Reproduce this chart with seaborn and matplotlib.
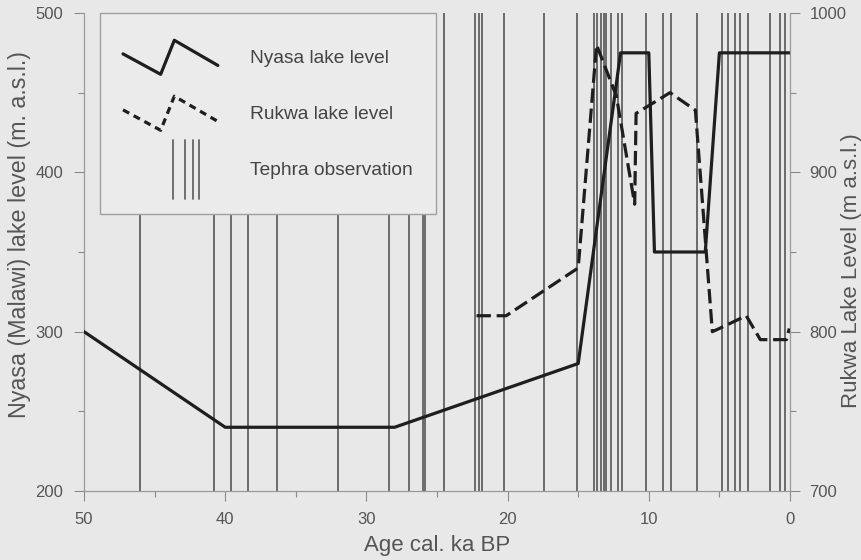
import matplotlib
matplotlib.use("Agg")
import matplotlib.pyplot as plt
from matplotlib.lines import Line2D
from matplotlib.legend_handler import HandlerBase
from matplotlib.ticker import MultipleLocator
import numpy as np
import pandas as pd
import seaborn as sns

# Nyasa (Malawi) lake level, m a.s.l., against age in cal. ka BP
nyasa_age = [50, 40, 28, 15, 12, 10, 9.6, 6, 5, 0]
nyasa_level = [300, 240, 240, 280, 475, 475, 350, 350, 475, 475]

# Rukwa lake level, m a.s.l.
rukwa_age = [22.2, 20.1, 15.0, 13.7, 12.3, 11.0, 10.9, 8.5, 6.7, 5.5, 5.0, 3.1, 2.1, 0.25, 0.05]
rukwa_level = [810, 810, 840, 980, 948, 880, 937, 950, 939, 800, 802, 810, 795, 795, 802]

# Ages of tephra observations, cal. ka BP
tephra_age = [46.0, 40.8, 39.6, 38.4, 36.3, 32.0, 28.4, 27.0, 26.0, 25.85, 24.5,
              22.3, 22.0, 21.8, 20.25, 17.4, 15.1, 13.9, 13.7, 13.4, 13.2, 13.0,
              12.7, 12.2, 11.9, 10.2, 9.0, 8.4, 6.6, 4.85, 4.4, 3.9, 3.55, 2.95,
              1.4, 0.7, 0.35]

legend_labels = ["Nyasa lake level", "Rukwa lake level", "Tephra observation"]

nyasa = pd.DataFrame({"age": nyasa_age, "level": nyasa_level})
rukwa = pd.DataFrame({"age": rukwa_age, "level": rukwa_level})
tephra = pd.DataFrame({"age": tephra_age})

sns.set_theme(style="ticks")
bg = "#e8e8e8"
plt.rcParams["font.family"] = ["Liberation Sans", "DejaVu Sans"]
plt.rcParams.update({
    "figure.facecolor": bg,
    "axes.facecolor": bg,
    "axes.edgecolor": "#9a9a9a",
    "axes.linewidth": 0.9,
    "xtick.color": "#8a8a8a",
    "ytick.color": "#8a8a8a",
    "xtick.labelcolor": "#555555",
    "ytick.labelcolor": "#555555",
    "xtick.labelsize": 12,
    "ytick.labelsize": 12,
})

fig = plt.figure(figsize=(8.61, 5.60), dpi=100)
ax = fig.add_axes([84 / 861, 1 - 491 / 560, 706 / 861, 478 / 560])
ax2 = ax.twinx()

line_col = "#1e1e1e"
teph_col = "#666666"
dash = (0, (4.5, 1.8))

sns.rugplot(data=tephra, x="age", height=1, ax=ax, color=teph_col,
            linewidth=1.35, alpha=1, expand_margins=False, zorder=1)
sns.lineplot(data=nyasa, x="age", y="level", ax=ax, sort=False, estimator=None,
             color=line_col, linewidth=2.3, zorder=3)
sns.lineplot(data=rukwa, x="age", y="level", ax=ax2, sort=False, estimator=None,
             color=line_col, linewidth=2.3, linestyle=dash, zorder=3)

ax.set_xlim(50, 0)
ax.set_ylim(200, 500)
ax2.set_ylim(700, 1000)
ax.xaxis.set_major_locator(MultipleLocator(10))
ax.xaxis.set_minor_locator(MultipleLocator(5))
ax.yaxis.set_major_locator(MultipleLocator(100))
ax.yaxis.set_minor_locator(MultipleLocator(50))
ax2.yaxis.set_major_locator(MultipleLocator(100))
ax2.yaxis.set_minor_locator(MultipleLocator(50))

for a in (ax, ax2):
    a.tick_params(which="major", length=7, width=0.8, direction="out")
    a.tick_params(which="minor", length=4, width=0.8, direction="out")
    a.spines["top"].set_visible(False)
ax.tick_params(axis="x", pad=8)
ax.tick_params(axis="y", pad=8)
ax2.tick_params(axis="y", pad=7)
ax.spines["right"].set_visible(False)
ax2.spines["left"].set_visible(False)
ax2.spines["bottom"].set_visible(False)
ax2.spines["right"].set_color("#9a9a9a")

lab_col = "#555555"
ax.set_xlabel("Age cal. ka BP", fontsize=16, color=lab_col, labelpad=6)
ax.set_ylabel("Nyasa (Malawi) lake level (m. a.s.l.)", fontsize=16.75,
              color=lab_col)
ax.yaxis.set_label_coords(-0.0907, 0.536)
ax.yaxis.label.set_va("center")
ax2.set_ylabel("Rukwa Lake Level (m a.s.l.)", fontsize=16, color=lab_col)
ax2.yaxis.set_label_coords(1.0865, 0.462)
ax2.yaxis.label.set_va("center")

# handle glyphs are scaled about the middle of a taller handle box
HANDLE_SCALE = 0.80


class ZigzagHandler(HandlerBase):
    def __init__(self, style):
        super().__init__()
        self.style = style

    def create_artists(self, legend, orig_handle, xdescent, ydescent,
                       width, height, fontsize, trans):
        fx = np.array([0.0, 0.397, 0.541, 1.0])
        fy = np.array([0.6, 0.0, 1.0, 0.26])
        fy = 0.5 + (fy - 0.5) * HANDLE_SCALE
        ln = Line2D(-xdescent + fx * width, -ydescent + fy * height,
                    color=line_col, linewidth=2.3, linestyle=self.style,
                    transform=trans)
        return [ln]


class TephraHandler(HandlerBase):
    def create_artists(self, legend, orig_handle, xdescent, ydescent,
                       width, height, fontsize, trans):
        arts = []
        half = 0.69
        for fx in (0.526, 0.65, 0.737, 0.80):
            x = -xdescent + fx * width
            arts.append(Line2D([x, x], [-ydescent + (0.5 - half) * height,
                                        -ydescent + (0.5 + half) * height],
                               color=teph_col, linewidth=1.3, transform=trans))
        return arts


h_nyasa = Line2D([], [])
h_rukwa = Line2D([], [])
h_tephra = Line2D([], [])
leg = ax2.legend([h_nyasa, h_rukwa, h_tephra], legend_labels,
                 handler_map={h_nyasa: ZigzagHandler("-"),
                              h_rukwa: ZigzagHandler((0, (2.2, 1.6))),
                              h_tephra: TephraHandler()},
                 loc="upper left", bbox_to_anchor=(16 / 706, 1.0),
                 borderaxespad=0, fontsize=13.8, handlelength=4.95,
                 handleheight=3.04, labelspacing=0.70, handletextpad=1.7,
                 borderpad=1.2, frameon=True, fancybox=False,
                 framealpha=1, facecolor="#ebebeb", edgecolor="#a0a0a0")
leg.get_frame().set_linewidth(1.0)
for t in leg.get_texts():
    t.set_color("#444444")
leg.set_zorder(10)

fig.savefig("out.png", dpi=100, facecolor=bg)
